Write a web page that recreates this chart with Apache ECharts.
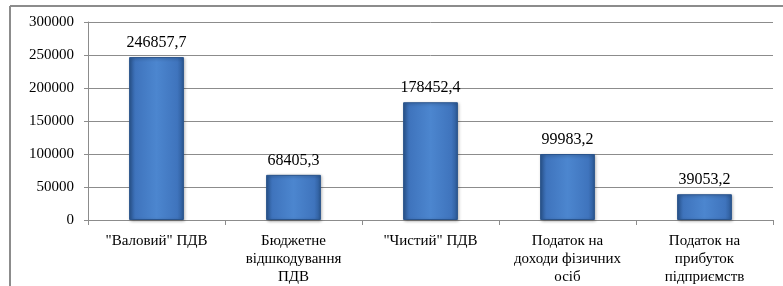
<!DOCTYPE html>
<html>
<head>
<meta charset="utf-8">
<script src="https://cdn.jsdelivr.net/npm/echarts@6/dist/echarts.min.js"></script>
<style>
    html, body { margin: 0; padding: 0; background: #fff; }
    #main { width: 783px; height: 286px; }
</style>
</head>
<body>
<div id="main"></div>
<script>
// категорії та значення (тис. грн)
var categories = ['"Валовий" ПДВ', 'Бюджетне\nвідшкодування\nПДВ', '"Чистий" ПДВ',
    'Податок на\nдоходи фізичних\nосіб', 'Податок на\nприбуток\nпідприємств'];
var values = [246857.7, 68405.3, 178452.4, 99983.2, 39053.2];
var yTicks = [0, 50000, 100000, 150000, 200000, 250000, 300000];

var chart = echarts.init(document.getElementById('main'));
var font = 'Liberation Serif, Times New Roman, DejaVu Serif, serif';

// об'ємна синя заливка стовпця
var barFill = new echarts.graphic.LinearGradient(0, 0, 1, 0, [
    {offset: 0, color: '#2c5a97'},
    {offset: 0.12, color: '#3f74bd'},
    {offset: 0.5, color: '#4c86cf'},
    {offset: 0.88, color: '#3f74bd'},
    {offset: 1, color: '#2c5a97'}
]);

var option = {
    backgroundColor: '#ffffff',
    animation: false,
    textStyle: { fontFamily: font },
    grid: { left: 88, right: 10, top: 22, bottom: 65 },
    xAxis: {
        type: 'category',
        data: categories,
        axisLine: { lineStyle: { color: '#8c8c8c', width: 1 } },
        axisTick: { show: true, length: 5, lineStyle: { color: '#8c8c8c' } },
        axisLabel: {
            color: '#000', fontFamily: font, fontSize: 15,
            lineHeight: 18, margin: 12, interval: 0
        }
    },
    yAxis: {
        type: 'value',
        min: yTicks[0],
        max: yTicks[yTicks.length - 1],
        interval: yTicks[1] - yTicks[0],
        axisLine: { show: true, lineStyle: { color: '#8c8c8c', width: 1 } },
        axisTick: { show: true, length: 4, lineStyle: { color: '#8c8c8c' } },
        axisLabel: {
            color: '#000', fontFamily: font, fontSize: 15, margin: 14,
            formatter: function (v) { return String(v); }
        },
        splitLine: { lineStyle: { color: '#8c8c8c', width: 1 } }
    },
    series: [{
        type: 'bar',
        data: values,
        barWidth: '40%',
        itemStyle: {
            color: barFill,
            borderColor: '#2a548c',
            borderWidth: 1,
            shadowColor: 'rgba(0,0,0,0.35)',
            shadowBlur: 3,
            shadowOffsetX: 1,
            shadowOffsetY: 1
        },
        label: {
            show: true,
            position: 'top',
            distance: 6,
            color: '#000',
            fontFamily: font,
            fontSize: 16,
            formatter: function (p) { return String(p.value).replace('.', ','); }
        }
    }],
    // рамка навколо діаграми
    graphic: [
        { type: 'line', shape: { x1: 10, y1: 6, x2: 783, y2: 6 }, style: { stroke: '#8c8c8c', lineWidth: 2 } },
        { type: 'line', shape: { x1: 10, y1: 6, x2: 10, y2: 286 }, style: { stroke: '#8c8c8c', lineWidth: 2 } }
    ]
};
chart.setOption(option);
</script>
</body>
</html>
